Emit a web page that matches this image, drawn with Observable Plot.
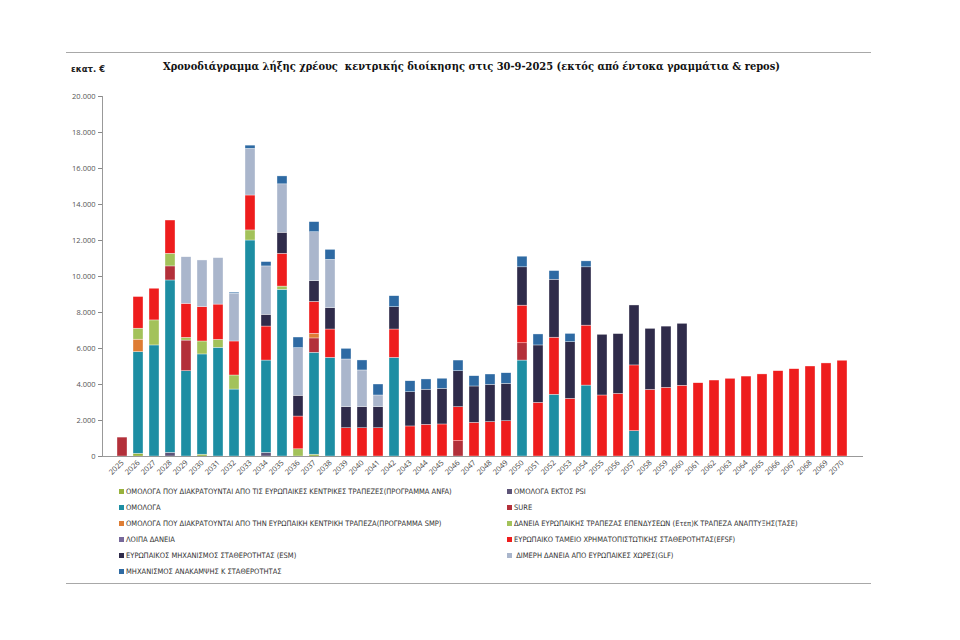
<!DOCTYPE html>
<html>
<head>
<meta charset="utf-8">
<script src="https://cdn.jsdelivr.net/npm/d3@7"></script>
<script src="https://cdn.jsdelivr.net/npm/@observablehq/plot@0.6"></script>
<style>
  html, body { margin: 0; padding: 0; background: #fff; }
  #wrap { position: relative; width: 960px; height: 640px; overflow: hidden; }
  #chart { position: absolute; left: 0; top: 0; }
  .hline { position: absolute; height: 0; border-top: 1.5px solid #a8a8a8; }
  #title { position: absolute; left: 163px; top: 60px; font-family: "DejaVu Serif Condensed", "DejaVu Serif", serif; font-stretch: condensed; font-weight: bold; font-size: 11px; color: #111; white-space: nowrap; }
  #unit { position: absolute; left: 71px; top: 64px; font-family: "DejaVu Sans", Verdana, sans-serif; font-weight: bold; font-size: 8.5px; color: #222; }
  .leg { position: absolute; font-family: "Liberation Sans Narrow", "DejaVu Sans Condensed", sans-serif; font-size: 7.5px; color: #333; white-space: nowrap; line-height: 9px; }
  .leg i { display: inline-block; width: 5px; height: 5px; margin-right: 2px; vertical-align: 0px; }
</style>
</head>
<body>
<div id="wrap">
  <div id="chart"></div>
  <div class="hline" style="left:66px; top:52px; width:805px;"></div>
  <div class="hline" style="left:66px; top:583px; width:805px;"></div>
  <div id="unit">εκατ. €</div>
  <div id="title">Χρονοδιάγραμμα λήξης χρέους&nbsp; κεντρικής διοίκησης στις 30-9-2025 (εκτός από έντοκα γραμμάτια &amp; repos)</div>
  <div id="legend"></div>
</div>
<script>
// ---- Data (εκατ. €) ----
const years = d3.range(2025, 2071).map(String);

const seriesNames = [
  "ΟΜΟΛΟΓΑ ΠΟΥ ΔΙΑΚΡΑΤΟΥΝΤΑΙ ΑΠΟ ΤΙΣ ΕΥΡΩΠΑΙΚΕΣ ΚΕΝΤΡΙΚΕΣ ΤΡΑΠΕΖΕΣ(ΠΡΟΓΡΑΜΜΑ ΑΝFA)",
  "ΟΜΟΛΟΓΑ ΕΚΤΟΣ PSI",
  "ΟΜΟΛΟΓΑ",
  "SURE",
  "ΟΜΟΛΟΓΑ ΠΟΥ ΔΙΑΚΡΑΤΟΥΝΤΑΙ ΑΠΟ ΤΗΝ ΕΥΡΩΠΑΙΚΗ ΚΕΝΤΡΙΚΗ ΤΡΑΠΕΖΑ(ΠΡΟΓΡΑΜΜΑ SMP)",
  "ΔΑΝΕΙΑ ΕΥΡΩΠΑΙΚΗΣ ΤΡΑΠΕΖΑΣ ΕΠΕΝΔΥΣΕΩΝ (Ετεπ)Κ ΤΡΑΠΕΖΑ ΑΝΑΠΤΥΞΗΣ(ΤΑΣΕ)",
  "ΛΟΙΠΑ ΔΑΝΕΙΑ",
  "ΕΥΡΩΠΑΙΚΟ ΤΑΜΕΙΟ ΧΡΗΜΑΤΟΠΙΣΤΩΤΙΚΗΣ ΣΤΑΘΕΡΟΤΗΤΑΣ(EFSF)",
  "ΕΥΡΩΠΑΙΚΟΣ ΜΗΧΑΝΙΣΜΟΣ ΣΤΑΘΕΡΟΤΗΤΑΣ (ESM)",
  " ΔΙΜΕΡΗ ΔΑΝΕΙΑ ΑΠΟ ΕΥΡΩΠΑΙΚΕΣ ΧΩΡΕΣ(GLF)",
  "ΜΗΧΑΝΙΣΜΟΣ ΑΝΑΚΑΜΨΗΣ Κ ΣΤΑΘΕΡΟΤΗΤΑΣ"
];

const seriesColors = [
  "#98b23c", "#5d5478", "#1d8ea3", "#b3303a", "#de7d34", "#a3c25a",
  "#76689a", "#ee1d1d", "#2f2b4a", "#aab6cc", "#2e6aa3"
];

//                 2025 ........................................................................................................................ 2070
const anfa   = [0,150,0,0,0,100,0,0,0,0,0,0,100,0,0,0,0,0,0,0,0,0,0,0,0,0,0,0,0,0,0,0,0,0,0,0,0,0,0,0,0,0,0,0,0,0];
const psi    = [0,0,0,200,0,0,0,0,0,200,0,0,0,0,0,0,0,0,0,0,0,0,0,0,0,0,0,0,0,0,0,0,0,0,0,0,0,0,0,0,0,0,0,0,0,0];
const bonds  = [0,5650,6170,9580,4740,5570,6040,3720,12000,5130,9260,0,5660,5480,0,0,0,5480,0,0,0,0,0,0,0,5330,0,3430,0,3940,0,0,1410,0,0,0,0,0,0,0,0,0,0,0,0,0];
const sure   = [1050,0,0,780,1700,0,0,0,0,0,0,0,800,0,0,0,0,0,0,0,0,850,0,0,0,960,0,0,0,0,0,0,0,0,0,0,0,0,0,0,0,0,0,0,0,0];
const smp    = [0,690,0,0,0,0,0,0,0,0,0,0,250,0,0,0,0,0,0,0,0,0,0,0,0,0,0,0,0,0,0,0,0,0,0,0,0,0,0,0,0,0,0,0,0,0];
const eib    = [0,610,1390,700,150,720,440,780,560,0,180,400,0,0,0,0,0,0,0,0,0,0,0,0,0,0,0,0,0,0,0,0,0,0,0,0,0,0,0,0,0,0,0,0,0,0];
const other  = [0,0,0,0,0,0,0,0,0,0,0,0,0,0,0,0,0,0,0,0,0,0,0,0,0,0,0,0,0,0,0,0,0,0,0,0,0,0,0,0,0,0,0,0,0,0];
const efsf   = [0,1760,1760,1850,1890,1910,1960,1890,1940,1890,1820,1820,1780,1575,1570,1570,1570,1575,1670,1760,1780,1890,1870,1910,1960,2090,2980,3170,3200,3330,3390,3480,3650,3700,3815,3930,4070,4220,4315,4440,4560,4740,4850,5000,5170,5320];
const esm    = [0,0,0,0,0,0,0,0,0,650,1170,1150,1150,1185,1170,1170,1170,1240,1900,1950,1980,2000,2020,2070,2075,2130,3190,3220,3150,3240,3370,3320,3330,3390,3400,3440,0,0,0,0,0,0,0,0,0,0];
const glf    = [0,0,0,0,2590,2590,2580,2650,2590,2690,2690,2650,2720,2685,2650,2040,650,0,0,0,0,0,0,0,0,0,0,0,0,0,0,0,0,0,0,0,0,0,0,0,0,0,0,0,0,0];
const rrf    = [0,0,0,0,0,0,0,60,180,240,440,590,560,555,590,555,610,610,610,570,560,590,570,575,590,590,610,480,460,330,0,0,0,0,0,0,0,0,0,0,0,0,0,0,0,0];

const yTicks = d3.range(0, 20001, 2000);

// ---- Build long table ----
const seriesValues = [anfa, psi, bonds, sure, smp, eib, other, efsf, esm, glf, rrf];
const rows = [];
seriesValues.forEach((arr, s) => {
  arr.forEach((v, i) => { if (v > 0) rows.push({year: years[i], series: seriesNames[s], value: v}); });
});

const fmt = d => d3.format(",")(d).replace(/,/g, ".");

const chart = Plot.plot({
  width: 960,
  height: 640,
  marginLeft: 102,
  marginRight: 98,
  marginTop: 96,
  marginBottom: 184,
  style: {fontFamily: "'Open Sans', 'DejaVu Sans', sans-serif", background: "white"},
  x: {domain: years, paddingInner: 0.38, paddingOuter: 0.2, label: null},
  y: {domain: [0, 20000], label: null},
  color: {domain: seriesNames, range: seriesColors},
  marks: [
    Plot.barY(rows, {x: "year", y: "value", fill: "series", order: seriesNames, stroke: "#ffffff", strokeWidth: 0.5, strokeOpacity: 0.7}),
    Plot.axisY({ticks: yTicks, tickFormat: fmt, tickSize: 4, tickPadding: 3, fontSize: 7.5, color: "#555", stroke: "#888"}),
    Plot.axisX({tickRotate: -45, tickSize: 0, tickPadding: 5, fontSize: 7.5, color: "#444"}),
    Plot.frame({anchor: "left", stroke: "#999"}),
    Plot.frame({anchor: "bottom", stroke: "#999"})
  ]
});
document.getElementById("chart").appendChild(chart);

// ---- Legend (two columns, row-major, like the source) ----
const legend = document.getElementById("legend");
seriesNames.forEach((name, i) => {
  const col = i % 2, row = Math.floor(i / 2);
  const d = document.createElement("div");
  d.className = "leg";
  d.style.left = (col === 0 ? 119 : 507) + "px";
  d.style.top = (487 + row * 16) + "px";
  d.innerHTML = `<i style="background:${seriesColors[i]}"></i>${name}`;
  legend.appendChild(d);
});
</script>
</body>
</html>
